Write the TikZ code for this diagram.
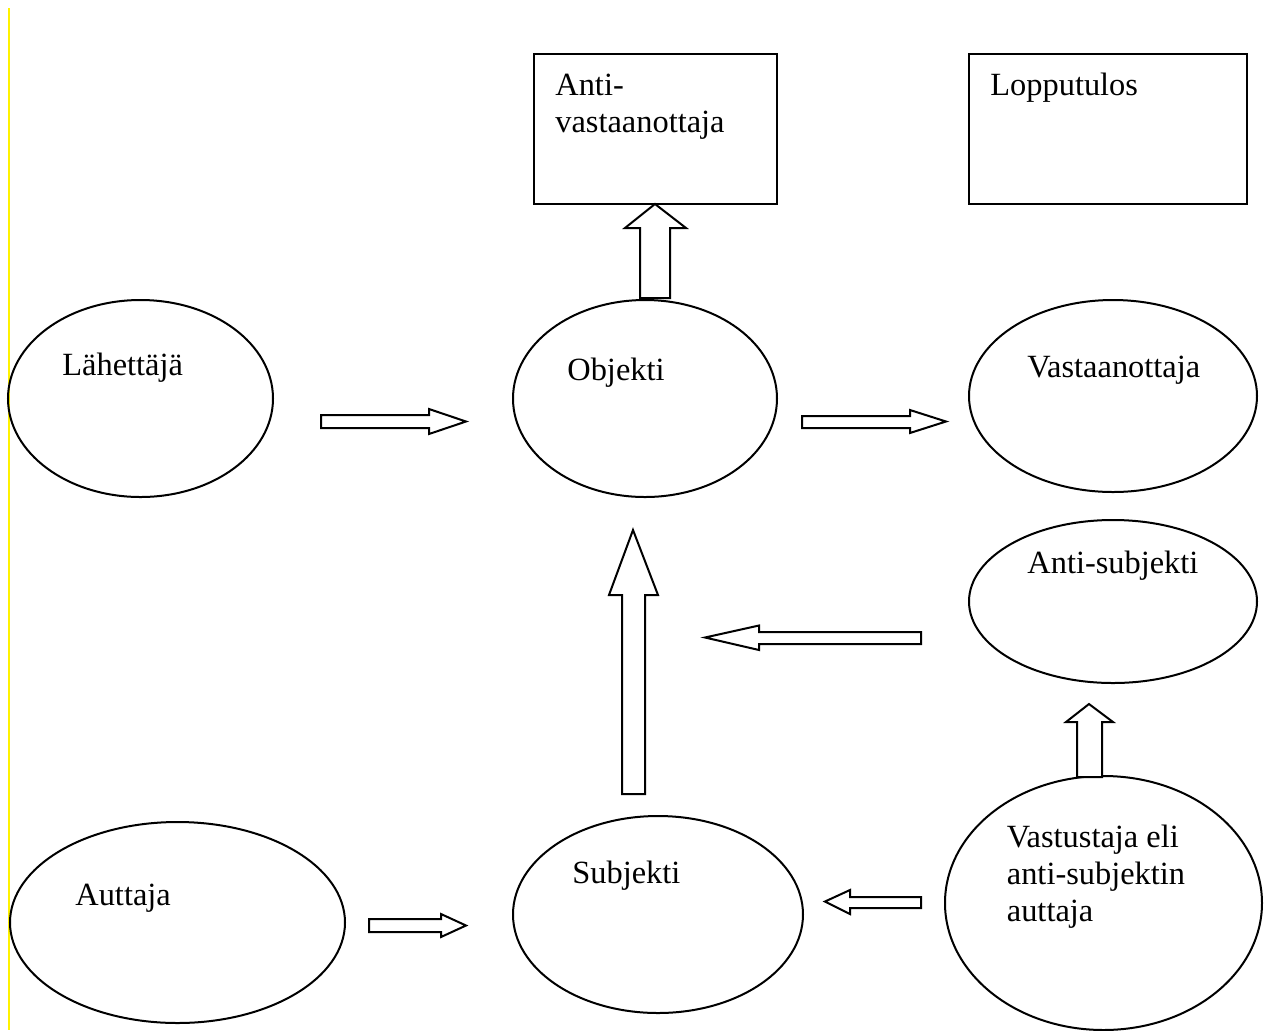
\documentclass[tikz,border=0pt]{standalone}
\usepackage{fontspec}
\setmainfont{Liberation Serif}
\usepackage{tikz}
\usetikzlibrary{shapes.geometric}
\tikzset{
    oval/.style={draw, ellipse, line width=1pt, inner sep=0pt},
    box/.style={draw, rectangle, line width=1pt, inner sep=0pt},
    lbl/.style={anchor=base west, inner sep=0pt, align=left,
        font=\fontsize{16.2pt}{18.3pt}\selectfont},
    blockarrow/.style={draw, line width=1pt, fill=white, line join=miter}
}

\begin{document}
\begin{tikzpicture}[x=0.5pt, y=-0.5pt]
        \useasboundingbox (0,0) rectangle (1265,1030);
        \draw[yellow, line width=1pt] (8.5,8) -- (8.5,1030);

        % boxes
        \node[box, minimum width=121.5pt, minimum height=75pt] (antirecv) at (655.5,129) {};
        \node[box, minimum width=139pt, minimum height=75pt] (result) at (1108,129) {};

        % ovals
        \node[oval, minimum width=132.5pt, minimum height=98.5pt] (sender) at (140.5,398.5) {};
        \node[oval, minimum width=132pt, minimum height=98.5pt] (object) at (645,398.5) {};
        \node[oval, minimum width=144pt, minimum height=96pt] (receiver) at (1113,396) {};
        \node[oval, minimum width=144pt, minimum height=81.5pt] (antisubj) at (1113,601.5) {};
        \node[oval, minimum width=167.5pt, minimum height=100.5pt] (helper) at (177.5,922.5) {};
        \node[oval, minimum width=145pt, minimum height=98.5pt] (subject) at (658,914.5) {};
        \node[oval, minimum width=158.5pt, minimum height=127pt] (opponent) at (1103.5,903) {};

        % texts (base = last line)
        \node[lbl] (antirecvtext) at (555,132) {Anti-\\vastaanottaja};
        \node[lbl] (resulttext) at (990,95.5) {Lopputulos};
        \node[lbl] (sendertext) at (62,375) {Lähettäjä};
        \node[lbl] (objecttext) at (567,380) {Objekti};
        \node[lbl] (receivertext) at (1027,377) {Vastaanottaja};
        \node[lbl] (antisubjtext) at (1027,573) {Anti-subjekti};
        \node[lbl] (helpertext) at (75,905) {Auttaja};
        \node[lbl] (subjecttext) at (572,883) {Subjekti};
        \node[lbl] (opponenttext) at (1006.5,921) {Vastustaja eli\\anti-subjektin\\auttaja};

        % block arrows
        \draw[blockarrow] (321,415) -- (429,415) -- (429,409) -- (466,421.5) -- (429,434) -- (429,428) -- (321,428) -- cycle;
        \draw[blockarrow] (802,416) -- (910,416) -- (910,410) -- (946,421.5) -- (910,433) -- (910,428) -- (802,428) -- cycle;
        \draw[blockarrow] (640,298) -- (640,228) -- (625,228) -- (655,204) -- (686,228) -- (670,228) -- (670,298) -- cycle;
        \draw[blockarrow] (622,794) -- (622,595) -- (609,595) -- (633,530) -- (658,595) -- (645,595) -- (645,794) -- cycle;
        \draw[blockarrow] (921,632) -- (759,632) -- (759,625.5) -- (705,637.5) -- (759,650) -- (759,644) -- (921,644) -- cycle;
        \draw[blockarrow] (1077,777) -- (1077,722) -- (1066,722) -- (1089,704) -- (1113,722) -- (1102,722) -- (1102,777) -- cycle;
        \draw[blockarrow] (369,919) -- (441,919) -- (441,914) -- (466,925.5) -- (441,937) -- (441,932) -- (369,932) -- cycle;
        \draw[blockarrow] (921,897) -- (850,897) -- (850,890) -- (825,901.5) -- (850,914) -- (850,908) -- (921,908) -- cycle;
    \end{tikzpicture}
\end{document}
